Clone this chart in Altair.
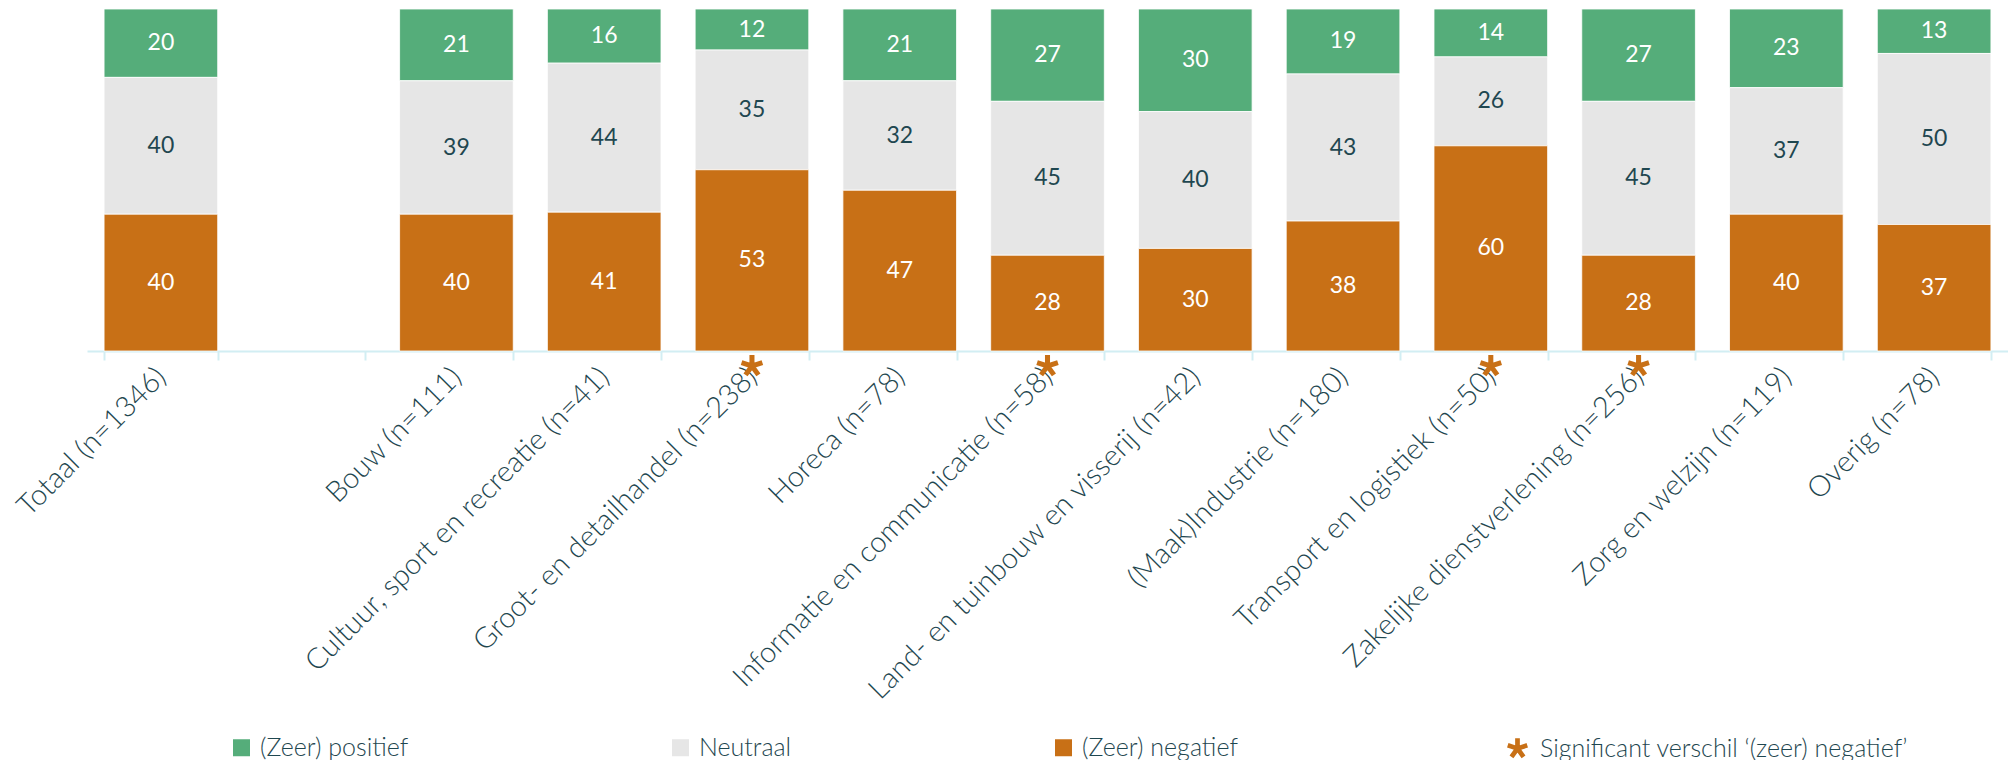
import math
import altair as alt
import pandas as pd

# ---------------- data ----------------
categories = [
    "Totaal (n=1346)",
    " ",
    "Bouw (n=111)",
    "Cultuur, sport en recreatie (n=41)",
    "Groot- en detailhandel (n=238)",
    "Horeca (n=78)",
    "Informatie en communicatie (n=58)",
    "Land- en tuinbouw en visserij (n=42)",
    "(Maak)Industrie (n=180)",
    "Transport en logistiek (n=50)",
    "Zakelijke dienstverlening (n=256)",
    "Zorg en welzijn (n=119)",
    "Overig (n=78)",
]
positief = [20, None, 21, 16, 12, 21, 27, 30, 19, 14, 27, 23, 13]
neutraal = [40, None, 39, 44, 35, 32, 45, 40, 43, 26, 45, 37, 50]
negatief = [40, None, 40, 41, 53, 47, 28, 30, 38, 60, 28, 40, 37]
significant = [False, False, False, False, True, False, True, False, False, True, True, False, False]

resp_labels = ["(Zeer) positief", "Neutraal", "(Zeer) negatief"]
sig_label = "Significant verschil \u2018(zeer) negatief\u2019"

# ---------------- styling ----------------
GREEN = "#55ad7a"
GRAY = "#e6e6e6"
ORANGE = "#c87016"
DARK = "#1f4750"
AXC = "#d2eef3"
FONT = "Lato"

rows = []
for i, c in enumerate(categories):
    for k, (lab, series) in enumerate(zip(resp_labels, [positief, neutraal, negatief])):
        v = series[i]
        if v is None:
            continue
        rows.append({"cat": c, "resp": lab, "value": v, "order": 2 - k})
df = pd.DataFrame(rows)
sig_df = pd.DataFrame({"cat": [c for c, s in zip(categories, significant) if s]})
sig_df["sig"] = sig_label


def asterisk_path(n=5, t=0.23, back=0.12):
    parts = []
    for k in range(n):
        a = 2 * math.pi * k / n
        dx, dy = math.sin(a), -math.cos(a)
        nx, ny = math.cos(a), math.sin(a)
        pts = [
            (-back * dx + t * nx, -back * dy + t * ny),
            (dx + t * nx, dy + t * ny),
            (dx - t * nx, dy - t * ny),
            (-back * dx - t * nx, -back * dy - t * ny),
        ]
        parts.append("M" + " L".join(f"{px:.3f},{py:.3f}" for px, py in pts) + " Z")
    return " ".join(parts)


STAR = asterisk_path()

W, H = 1921, 342
pI = 0.231

xscale = alt.Scale(domain=categories, paddingInner=pI, paddingOuter=pI / 2)
x_axis = alt.Axis(
    title=None,
    labelAngle=-45,
    labelAlign="right",
    labelBaseline="middle",
    labelFont=FONT,
    labelFontSize=29,
    labelFontWeight=300,
    labelColor=DARK,
    labelPadding=12,
    labelLimit=0,
    tickBand="extent",
    tickSize=9,
    tickColor=AXC,
    tickWidth=2,
    domainColor=AXC,
    domainWidth=2,
)
x = alt.X("cat:N", scale=xscale, axis=x_axis)
yscale = alt.Scale(domain=[0, 1], nice=False, zero=True)

base = (
    alt.Chart(df)
    .transform_stack(
        stack="value",
        as_=["y0", "y1"],
        groupby=["cat"],
        sort=[alt.SortField("order", order="ascending")],
        offset="normalize",
    )
    .transform_calculate(mid="(datum.y0 + datum.y1) / 2")
)

bars = base.mark_bar(stroke="white", strokeWidth=0.8).encode(
    x=x,
    y=alt.Y("y0:Q", scale=yscale, axis=None),
    y2="y1:Q",
    color=alt.Color(
        "resp:N",
        scale=alt.Scale(domain=resp_labels, range=[GREEN, GRAY, ORANGE]),
        legend=alt.Legend(
            title=None,
            orient="none",
            legendX=142,
            legendY=726,
            direction="horizontal",
            columns=3,
            columnPadding=259,
            symbolType="square",
            symbolSize=289,
            symbolStrokeWidth=0,
            symbolOpacity=1,
            labelFont=FONT,
            labelFontSize=25,
            labelFontWeight=300,
            labelColor=DARK,
            labelOffset=6,
            labelLimit=0,
            padding=0,
        ),
    ),
)

txt_light = (
    base.transform_filter(alt.datum.resp != "Neutraal")
    .mark_text(font=FONT, fontSize=23, fontWeight=400, color="white")
    .encode(x=x, y=alt.Y("mid:Q", scale=yscale, axis=None), text="value:Q")
)
txt_dark = (
    base.transform_filter(alt.datum.resp == "Neutraal")
    .mark_text(font=FONT, fontSize=23, fontWeight=400, color=DARK)
    .encode(x=x, y=alt.Y("mid:Q", scale=yscale, axis=None), text="value:Q")
)

stars = (
    alt.Chart(sig_df)
    .mark_point(filled=True, color=ORANGE, opacity=1, size=480, yOffset=15, strokeWidth=0)
    .encode(
        x=x,
        y=alt.datum(0),
        shape=alt.Shape(
            "sig:N",
            scale=alt.Scale(domain=[sig_label], range=[STAR]),
            legend=alt.Legend(
                title=None,
                orient="none",
                legendX=1418,
                legendY=727,
                direction="horizontal",
                symbolSize=420,
                symbolFillColor=ORANGE,
                symbolStrokeWidth=0,
                symbolOpacity=1,
                labelFont=FONT,
                labelFontSize=25,
                labelFontWeight=300,
                labelColor=DARK,
                labelOffset=10,
                labelLimit=0,
                padding=0,
            ),
        ),
    )
)

chart = (
    alt.layer(bars, txt_light, txt_dark, stars)
    .properties(
        width=W,
        height=H,
        autosize=alt.AutoSizeParams(type="none"),
        padding={"left": 79, "top": 1, "right": 0, "bottom": 409},
        background="white",
    )
    .configure_view(stroke=None)
)

chart.save("out.html", embed_options={"renderer": "svg", "actions": False})
